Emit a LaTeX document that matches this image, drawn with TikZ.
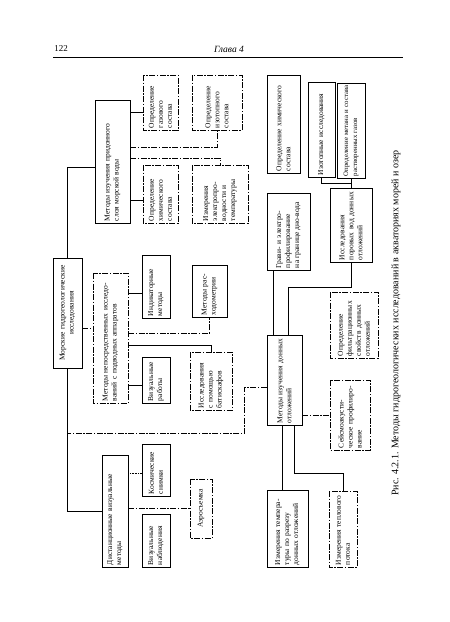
\documentclass[tikz,border=0pt]{standalone}
\usepackage{fontspec}
\setmainfont{Liberation Serif}
\usetikzlibrary{positioning}

\begin{document}
\begin{tikzpicture}[
    x=1pt, y=-1pt,
    box/.style={draw, rectangle, rotate=90, line width=0.6pt, inner sep=2pt, align=left, font=\fontsize{7.5}{9}\selectfont},
    dbox/.style={box, dash pattern=on 6pt off 1.5pt on 1.5pt off 1.5pt},
    link/.style={line width=0.6pt},
    dlink/.style={line width=0.6pt, dash pattern=on 6pt off 1.5pt on 1.5pt off 1.5pt}
]
\fill[white] (0,0) rectangle (450,622);

% Page head
\node[font=\fontsize{9}{10}\selectfont] (pgnum) at (61,49) {122};
\node[font=\fontsize{9.5}{10}\selectfont\itshape] (chap) at (229,49) {Глава 4};
\draw[line width=0.6pt] (53,57) -- (403,57);

% Level 0: main box
\node[box, align=center, minimum width=110pt, minimum height=29pt, text width=106pt] (main) at (67.5,313) {Морские гидрогеологические\\исследования};

% Level 1: near-bottom water
\node[box, minimum width=123pt, minimum height=35pt, text width=119pt] (water) at (112.5,161.5) {Методы изучения придонного\\слоя морской воды};
\node[dbox, minimum width=55pt, minimum height=35pt, text width=51pt] (gas) at (160.5,102.5) {Определение\\газового\\состава};
\node[dbox, minimum width=55pt, minimum height=50pt, text width=51pt] (iso) at (217,102.5) {Определение\\изотопного\\состава};
\node[dbox, minimum width=58pt, minimum height=35pt, text width=54pt] (chem) at (160.5,194) {Определение\\химического\\состава};
\node[dbox, minimum width=58pt, minimum height=56pt, text width=54pt] (elec) at (220,194) {Измерения\\электропро-\\водности и\\температуры};

% Level 1: underwater vehicles
\node[dbox, minimum width=130pt, minimum height=35pt, text width=126pt] (direct) at (110.5,338) {Методы непосредственных исследо-\\ваний с подводных аппаратов};
\node[box, minimum width=63pt, minimum height=28pt, text width=59pt] (indic) at (156,286.5) {Индикаторные\\методы};
\node[box, minimum width=46pt, minimum height=28pt, text width=42pt] (visw) at (156,380) {Визуальные\\работы};
\node[box, minimum width=52pt, minimum height=35pt, text width=48pt] (flow) at (209.5,291) {Методы рас-\\ходометрии};
\node[dbox, minimum width=58pt, minimum height=42pt, text width=54pt] (bathy) at (211,381) {Исследования\\с помощью\\батискафов};

% Level 1: remote sensing
\node[box, minimum width=112pt, minimum height=26pt, text width=108pt] (remote) at (115,511) {Дистанционные визуальные\\методы};
\node[box, minimum width=52pt, minimum height=28pt, text width=48pt] (space) at (156,470) {Космические\\снимки};
\node[box, minimum width=53pt, minimum height=28pt, text width=49pt] (visobs) at (156,540.5) {Визуальные\\наблюдения};
\node[dbox, minimum width=59pt, minimum height=22pt, text width=55pt, align=center] (aero) at (201,508.5) {Аэросъемка};

% Level 1: bottom sediments
\node[box, minimum width=90pt, minimum height=35pt, text width=86pt] (sed) at (284.5,380) {Методы изучения донных\\отложений};
\node[dbox, minimum width=70pt, minimum height=40pt, text width=66pt] (seism) at (350,415) {Сейсмоакусти-\\ческое профилиро-\\вание};
\node[dbox, minimum width=66pt, minimum height=48pt, text width=62pt] (filtr) at (354,325) {Определение\\фильтрационных\\свойств донных\\отложений};
\node[box, minimum width=77pt, minimum height=43pt, text width=73pt] (grav) at (288.5,231.5) {Грави- и электро-\\профилирование\\на границе дно-вода};
\node[box, minimum width=74pt, minimum height=42pt, text width=70pt] (pore) at (351,225) {Исследования\\поровых вод донных\\отложений};
\node[box, minimum width=98pt, minimum height=33pt, text width=94pt] (chem2) at (283.5,124) {Определение химического\\состава};
\node[box, minimum width=95pt, minimum height=27pt, text width=91pt] (iso2) at (321.5,129.5) {Изотопные исследования};
\node[box, minimum width=95pt, minimum height=28pt, text width=91pt, font=\fontsize{6.8}{9}\selectfont] (meth) at (351,130.5) {Определение метана и состава\\растворенных газов};
\node[box, minimum width=77pt, minimum height=41pt, text width=73pt] (temp) at (287.5,528.5) {Измерения темпера-\\туры по разрезу\\донных отложений};
\node[dbox, minimum width=76pt, minimum height=28pt, text width=72pt] (heat) at (343,529) {Измерения теплового\\потока};

% Caption
\node[rotate=90, font=\fontsize{10}{12}\selectfont] (cap) at (396,323) {Рис. 4.2.1. Методы гидрогеологических исследований в акваториях морей и озер};

% Connectors from main box
\draw[link] (main.east) |- (water.north |- 0,167);
\draw[dlink] (main.south |- 0,328) -- (direct.north |- 0,328);
\draw[link] (main.west) |- (remote.north);
\draw[dlink] (sed.north |- 0,387) -- ++(-22,0) |- (main.west |- 0,433);

% Water branch
\draw[link] (water.south |- 0,112) -- (gas.north |- 0,112);
\draw[link] (water.south |- 0,200) -- (chem.north |- 0,200);
\draw[dlink] (water.south |- 0,147) -| (iso.west);
\draw[dlink] (water.south |- 0,158) -| (elec.east);

% Vehicles branch
\draw[link] (direct.south |- 0,293) -- (indic.north |- 0,293);
\draw[link] (direct.south |- 0,385) -- (visw.north |- 0,385);
\draw[dlink] (direct.south |- 0,333) -| (flow.west);
\draw[link] (direct.south |- 0,345) -| (bathy.east);

% Remote branch
\draw[link, densely dotted] (remote.south |- 0,473) -- (space.north |- 0,473);
\draw[dlink] (remote.south |- aero) -- (aero.north);

% Sediments branch
\draw[link] (sed.east -| 273,0) -- (grav.west -| 273,0);
\draw[link] (sed.east -| 288,0) |- (pore.west |- 0,287) -- (pore.west);
\draw[dlink] (sed.south |- 0,415) -- (seism.north |- 0,415);
\draw[link] (sed.west -| 282,0) -- (temp.east -| 282,0);
\draw[link] (sed.west -| 294,0) |- (heat.east |- 0,473) -- (heat.east);
\draw[link] (pore.east) -- (meth.west);
\draw[link] (iso2.west) |- (meth.west |- 0,183);

\end{tikzpicture}
\end{document}
